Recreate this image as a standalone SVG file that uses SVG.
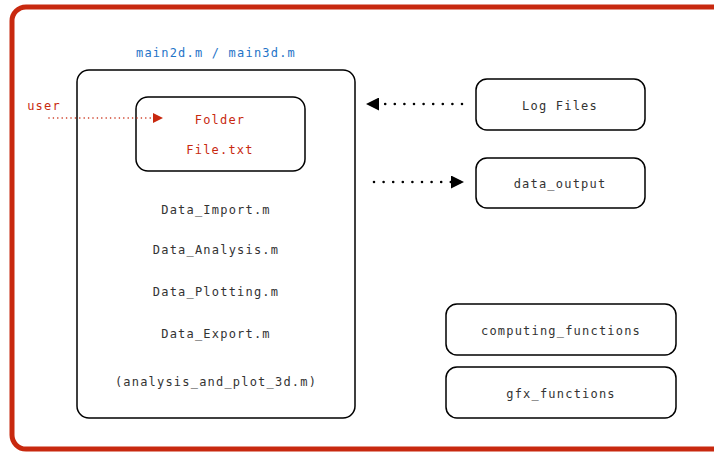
<svg xmlns="http://www.w3.org/2000/svg" width="714" height="453" viewBox="0 0 714 453">
  <defs>
    <marker id="headBlack" viewBox="0 0 10 10" refX="10" refY="5" markerWidth="13" markerHeight="13" markerUnits="userSpaceOnUse" orient="auto">
      <path d="M0,0 L10,5 L0,10 Z" fill="#000"/>
    </marker>
    <marker id="headRed" viewBox="0 0 10 10" refX="10" refY="5" markerWidth="10" markerHeight="10" markerUnits="userSpaceOnUse" orient="auto">
      <path d="M0,0 L10,5 L0,10 Z" fill="#c8290f"/>
    </marker>
    <style>
      text { font-family: "DejaVu Sans Mono", "Liberation Mono", monospace; font-size: 12px; letter-spacing: 1.2px; text-anchor: middle; dominant-baseline: central; fill: #333; }
      .box { fill: #fff; stroke: #000; stroke-width: 1.5; }
      .red { fill: #c8290f; }
      .blue { fill: #1f74c8; }
      .dotted { fill: none; stroke: #000; stroke-width: 2.6; stroke-linecap: round; stroke-dasharray: 0 9.6; }
      .dottedRed { fill: none; stroke: #c8290f; stroke-width: 1.6; stroke-linecap: round; stroke-dasharray: 0 4.4; }
    </style>
  </defs>

  <!-- frame -->
  <rect x="12" y="7" width="720" height="442" rx="14" fill="#fff" stroke="#c8290f" stroke-width="5"/>

  <text class="blue" x="216" y="53">main2d.m / main3d.m</text>

  <g id="main">
    <rect class="box" x="77" y="70" width="278" height="348" rx="12"/>
    <text x="216" y="210">Data_Import.m</text>
    <text x="216" y="250">Data_Analysis.m</text>
    <text x="216" y="292">Data_Plotting.m</text>
    <text x="216" y="334">Data_Export.m</text>
    <text x="216" y="382">(analysis_and_plot_3d.m)</text>
  </g>

  <g id="folder">
    <rect class="box" x="136" y="97" width="169" height="74" rx="12"/>
    <text class="red" x="220" y="120">Folder</text>
    <text class="red" x="220" y="150">File.txt</text>
  </g>

  <g id="logfiles">
    <rect class="box" x="476" y="79" width="169" height="51" rx="11"/>
    <text x="560" y="106">Log Files</text>
  </g>

  <g id="dataoutput">
    <rect class="box" x="476" y="158" width="169" height="50" rx="11"/>
    <text x="560" y="184">data_output</text>
  </g>

  <g id="computing">
    <rect class="box" x="446" y="304" width="230" height="51" rx="11"/>
    <text x="561" y="331">computing_functions</text>
  </g>

  <g id="gfx">
    <rect class="box" x="446" y="367" width="230" height="51" rx="11"/>
    <text x="561" y="394">gfx_functions</text>
  </g>

  <g id="user">
    <text class="red" x="44" y="106">user</text>
  </g>

  <g id="connectors">
    <path class="dotted" d="M462,104 L366,104" marker-end="url(#headBlack)"/>
    <path class="dotted" d="M374,182 L464,182" marker-end="url(#headBlack)"/>
    <path class="dottedRed" d="M49,118 L163,118" marker-end="url(#headRed)"/>
  </g>
</svg>
